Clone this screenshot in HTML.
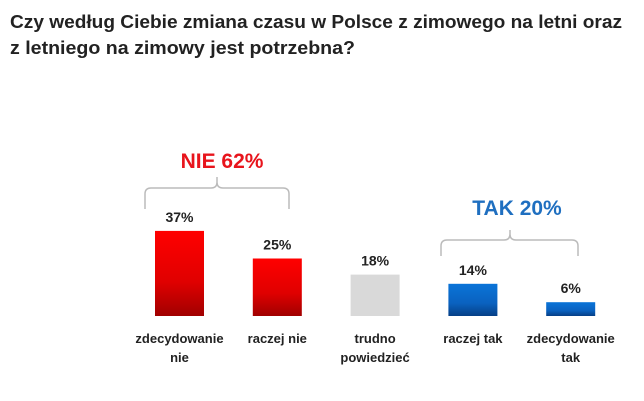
<!DOCTYPE html>
<html><head><meta charset="utf-8"><style>body{margin:0;background:#fff}svg{display:block}</style></head>
<body>
<svg width="644" height="401" viewBox="0 0 644 401" xmlns="http://www.w3.org/2000/svg" font-family="'Liberation Sans', sans-serif" font-weight="bold">
<defs>
<linearGradient id="gr" x1="0" y1="0" x2="0" y2="1"><stop offset="0" stop-color="#ff0000"/><stop offset="0.6" stop-color="#e00000"/><stop offset="1" stop-color="#a00000"/></linearGradient>
<linearGradient id="gb" x1="0" y1="0" x2="0" y2="1"><stop offset="0" stop-color="#0a74d8"/><stop offset="0.6" stop-color="#0a62c0"/><stop offset="1" stop-color="#063f86"/></linearGradient>
</defs>
<text x="10" y="28" font-size="18" fill="#222" textLength="612" lengthAdjust="spacingAndGlyphs">Czy według Ciebie zmiana czasu w Polsce z zimowego na letni oraz</text>
<text x="10" y="54" font-size="18" fill="#222" textLength="345" lengthAdjust="spacingAndGlyphs">z letniego na zimowy jest potrzebna?</text>
<text x="222" y="168" font-size="21" fill="#e8141c" text-anchor="middle">NIE 62%</text>
<path d="M145 209 V194 Q145 188 151 188 H211 Q217 188 217 182 V177 V182 Q217 188 223 188 H283 Q289 188 289 194 V209" fill="none" stroke="#bbb" stroke-width="1.5"/>
<text x="517" y="215" font-size="21" fill="#1f6fc0" text-anchor="middle">TAK 20%</text>
<path d="M441 256 V246 Q441 240 447 240 H504 Q510 240 510 234 V230 V234 Q510 240 516 240 H572 Q578 240 578 246 V256" fill="none" stroke="#bbb" stroke-width="1.5"/>
<g id="bars"></g>
</svg>
<script>
const categories=[["zdecydowanie","nie"],["raczej nie"],["trudno","powiedzieć"],["raczej tak"],["zdecydowanie","tak"]];
const values=[37,25,18,14,6];
const valueLabels=["37%","25%","18%","14%","6%"];
const fills=["url(#gr)","url(#gr)","#d9d9d9","url(#gb)","url(#gb)"];
const base=316, per=2.3, x0=155, step=97.8, bw=49;
const y=v=>base-v*per;
const g=document.getElementById('bars');
const ns="http://www.w3.org/2000/svg";
values.forEach((v,i)=>{
  const x=x0+i*step, cx=x+bw/2;
  const r=document.createElementNS(ns,'rect');
  
  
  r.setAttribute('x',x);r.setAttribute('y',y(v));r.setAttribute('width',bw);r.setAttribute('height',v*per);r.setAttribute('fill',fills[i]);
  g.appendChild(r);
  const t=document.createElementNS(ns,'text');
  
  
  t.setAttribute('x',cx);t.setAttribute('y',y(v)-9);t.setAttribute('text-anchor','middle');t.setAttribute('font-size','14');t.setAttribute('fill','#222');
  t.textContent=valueLabels[i];g.appendChild(t);
  categories[i].forEach((line,j)=>{
    const c=document.createElementNS(ns,'text');
    
    
    c.setAttribute('x',cx);c.setAttribute('y',343+j*19);c.setAttribute('text-anchor','middle');c.setAttribute('font-size','13');c.setAttribute('fill','#222');
    c.textContent=line;g.appendChild(c);
  });
});
</script>
</body></html>
